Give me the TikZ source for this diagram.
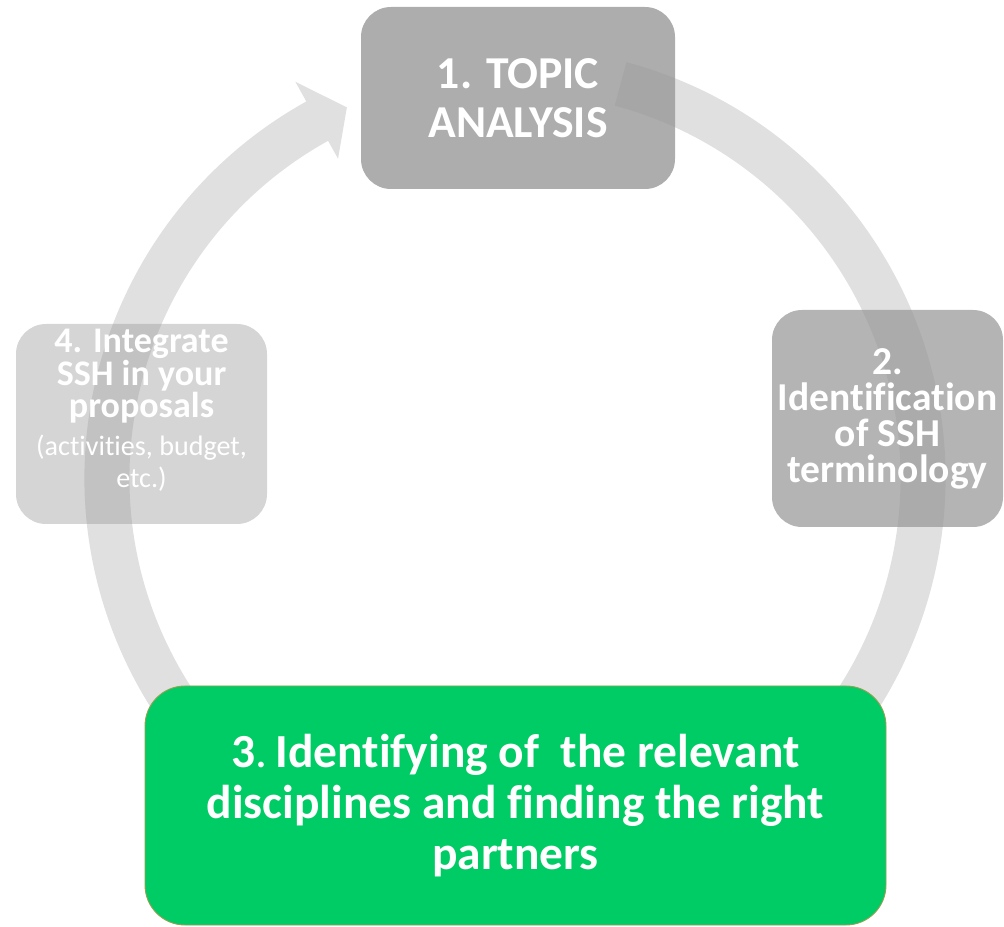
\documentclass[tikz,border=0pt]{standalone}
\usepackage{fontspec}
\setmainfont[RawFeature={-liga}]{Carlito}
\usepackage{tikz}
\usetikzlibrary{positioning}

\definecolor{ringgray}{RGB}{224,224,224}
\definecolor{boxgray}{RGB}{150,150,150}
\definecolor{stepgreen}{RGB}{0,204,102}
\definecolor{stepedge}{RGB}{150,160,80}

\begin{document}
\begin{tikzpicture}[
    box/.style={rounded corners=0.6cm, inner sep=0pt, align=center, text=white, fill=boxgray},
    ring/.style={fill=ringgray}]
                        \useasboundingbox (0,0) rectangle (20.08,18.52);

                        % cycle arrow
                        \fill[ring, shift={(10.3,8.96)}]
                        (75:8.61) arc[start angle=75, end angle=-241, radius=8.61]
                        -- (-241:9.06) -- (-245.6:8.14) -- (-241:7.30) -- (-241:7.71)
                        arc[start angle=-241, end angle=75, radius=7.71] -- cycle;

                        \node[box, fill opacity=0.78, text opacity=1, minimum width=6.28cm, minimum height=3.64cm,
                              font=\fontsize{26}{28}\selectfont\bfseries] (topic) at (10.36, 16.56) {1. TOPIC\\ANALYSIS};
                        \node[box, fill opacity=0.71, text opacity=1, minimum width=4.62cm, minimum height=4.34cm,
                              font=\fontsize{22.5}{20.5}\selectfont\bfseries] (terms) at (17.75, 10.15) {2.\\Identification\\of SSH\\terminology};
                        \node[box, fill opacity=0.4, text opacity=1, minimum width=5.02cm, minimum height=4.0cm,
                              font=\fontsize{20.5}{18.5}\selectfont\bfseries] (integrate) at (2.83, 10.04)
                              {4. Integrate\\SSH in your\\proposals\\[3pt]
                               \mdseries\fontsize{16}{17}\selectfont (activities, budget,\\
                               \mdseries\fontsize{16}{17}\selectfont etc.)\\[-1pt]};
                        \node[box, rounded corners=0.8cm, fill=stepgreen, draw=stepedge, line width=0.5pt,
                              minimum width=14.82cm, minimum height=4.78cm,
                              font=\fontsize{27}{29}\selectfont\bfseries] (partners) at (10.31, 2.41)
                              {3{\mdseries .}\,Identifying of\ \ the relevant\\disciplines and finding the right\\partners};
                    \end{tikzpicture}
\end{document}
